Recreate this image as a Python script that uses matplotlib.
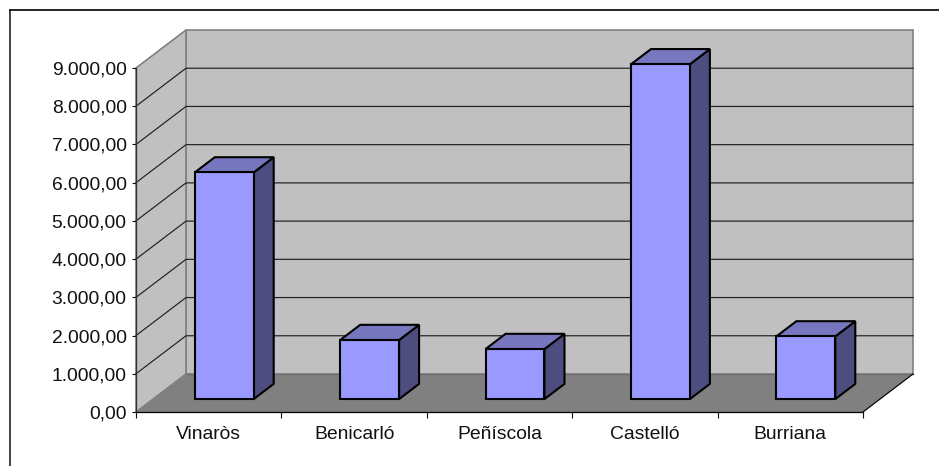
import matplotlib
matplotlib.use("Agg")
import matplotlib.pyplot as plt
from matplotlib.lines import Line2D
from matplotlib.patches import Polygon
from matplotlib.ticker import FuncFormatter

# Data
cities = ["Vinaròs", "Benicarló", "Peñíscola", "Castelló", "Burriana"]
values = [5930, 1545, 1310, 8760, 1640]
y_ticks = [0, 1000, 2000, 3000, 4000, 5000, 6000, 7000, 8000, 9000]

W, H = 939, 466
plt.rcParams["font.family"] = ["Liberation Sans", "DejaVu Sans"]
plt.rcParams["font.size"] = 13.9

fig = plt.figure(figsize=(W / 100, H / 100), dpi=100)
# front plane of the fake 3d box, in pixels
left, right, top, bottom = 136, 863, 68, 412
ax = fig.add_axes([left / W, 1 - bottom / H, (right - left) / W, (bottom - top) / H])
ax.set_xlim(0, len(cities))
ax.set_ylim(0, 9000)
ax.patch.set_visible(False)

# oblique projection: depth 1 is the back wall
DX = 50 / ((right - left) / len(cities))
DY = 38 / ((bottom - top) / 9000)


def proj(x, y, d):
    return (x + d * DX, y + d * DY)


def face(pts, **kw):
    ax.add_patch(Polygon([proj(*p) for p in pts], closed=True, clip_on=False, **kw))


n = len(cities)
ymax = y_ticks[-1]
# walls and floor
face([(0, 0, 1), (n, 0, 1), (n, ymax, 1), (0, ymax, 1)], fc="#c0c0c0", ec="#808080", lw=1.2, zorder=1)
face([(0, 0, 0), (0, 0, 1), (0, ymax, 1), (0, ymax, 0)], fc="#c0c0c0", ec="#808080", lw=1.2, zorder=1)
face([(0, 0, 0), (n, 0, 0), (n, 0, 1), (0, 0, 1)], fc="#808080", ec="none", zorder=1.5)

# gridlines along side wall and back wall
for v in y_ticks[1:-1]:
    xs, ys = zip(proj(0, v, 0), proj(0, v, 1), proj(n, v, 1))
    ax.plot(xs, ys, color="#202020", lw=0.85, clip_on=False, zorder=2)
xs, ys = zip(proj(0, 0, 1), proj(n, 0, 1))
ax.plot(xs, ys, color="#707070", lw=1.0, clip_on=False, zorder=2)
xs, ys = zip(proj(n, 0, 0), proj(n, 0, 1))
ax.plot(xs, ys, color="black", lw=0.85, clip_on=False, zorder=2)

# bars
bar_w = 0.405
d0, d1 = 0.34, 0.74
for i, v in enumerate(values):
    x0 = i + 0.49 - bar_w / 2
    x1 = x0 + bar_w
    style = dict(ec="black", lw=1.5, joinstyle="miter", zorder=5)
    face([(x1, 0, d0), (x1, 0, d1), (x1, v, d1), (x1, v, d0)], fc="#4d4d80", **style)
    face([(x0, v, d0), (x1, v, d0), (x1, v, d1), (x0, v, d1)], fc="#7777bf", **style)
    face([(x0, 0, d0), (x1, 0, d0), (x1, v, d0), (x0, v, d0)], fc="#9999ff", **style)

# axes
for side in ["top", "right"]:
    ax.spines[side].set_visible(False)
for side in ["left", "bottom"]:
    ax.spines[side].set_linewidth(0.9)
    ax.spines[side].set_zorder(3)
ax.spines["left"].set_color("#303030")
ax.set_yticks(y_ticks)
ax.yaxis.set_major_formatter(
    FuncFormatter(lambda v, p: f"{v:,.2f}".replace(",", "X").replace(".", ",").replace("X", "."))
)
ax.set_xticks(range(n + 1))
ax.set_xticks([i + 0.5 for i in range(n)], minor=True)
ax.set_xticklabels([])
ax.set_xticklabels(cities, minor=True)
ax.tick_params(axis="y", length=3.2, width=0.8, pad=3.5, colors="#111111")
ax.tick_params(axis="x", which="major", length=4, width=0.8, color="#111111")
ax.tick_params(axis="x", which="minor", length=0, pad=10, labelcolor="#111111")
for lab in ax.get_yticklabels() + ax.get_xticklabels(minor=True):
    lab.set_fontsize(13.9)

# outer chart frame, open at the right and bottom where the image is cropped
fig.add_artist(Line2D([10 / W, 10 / W], [0, 1 - 10 / H], color="#222222", lw=1.2))
fig.add_artist(Line2D([9.5 / W, 1], [1 - 10 / H, 1 - 10 / H], color="black", lw=1.2))

fig.savefig("out.png", dpi=100)
